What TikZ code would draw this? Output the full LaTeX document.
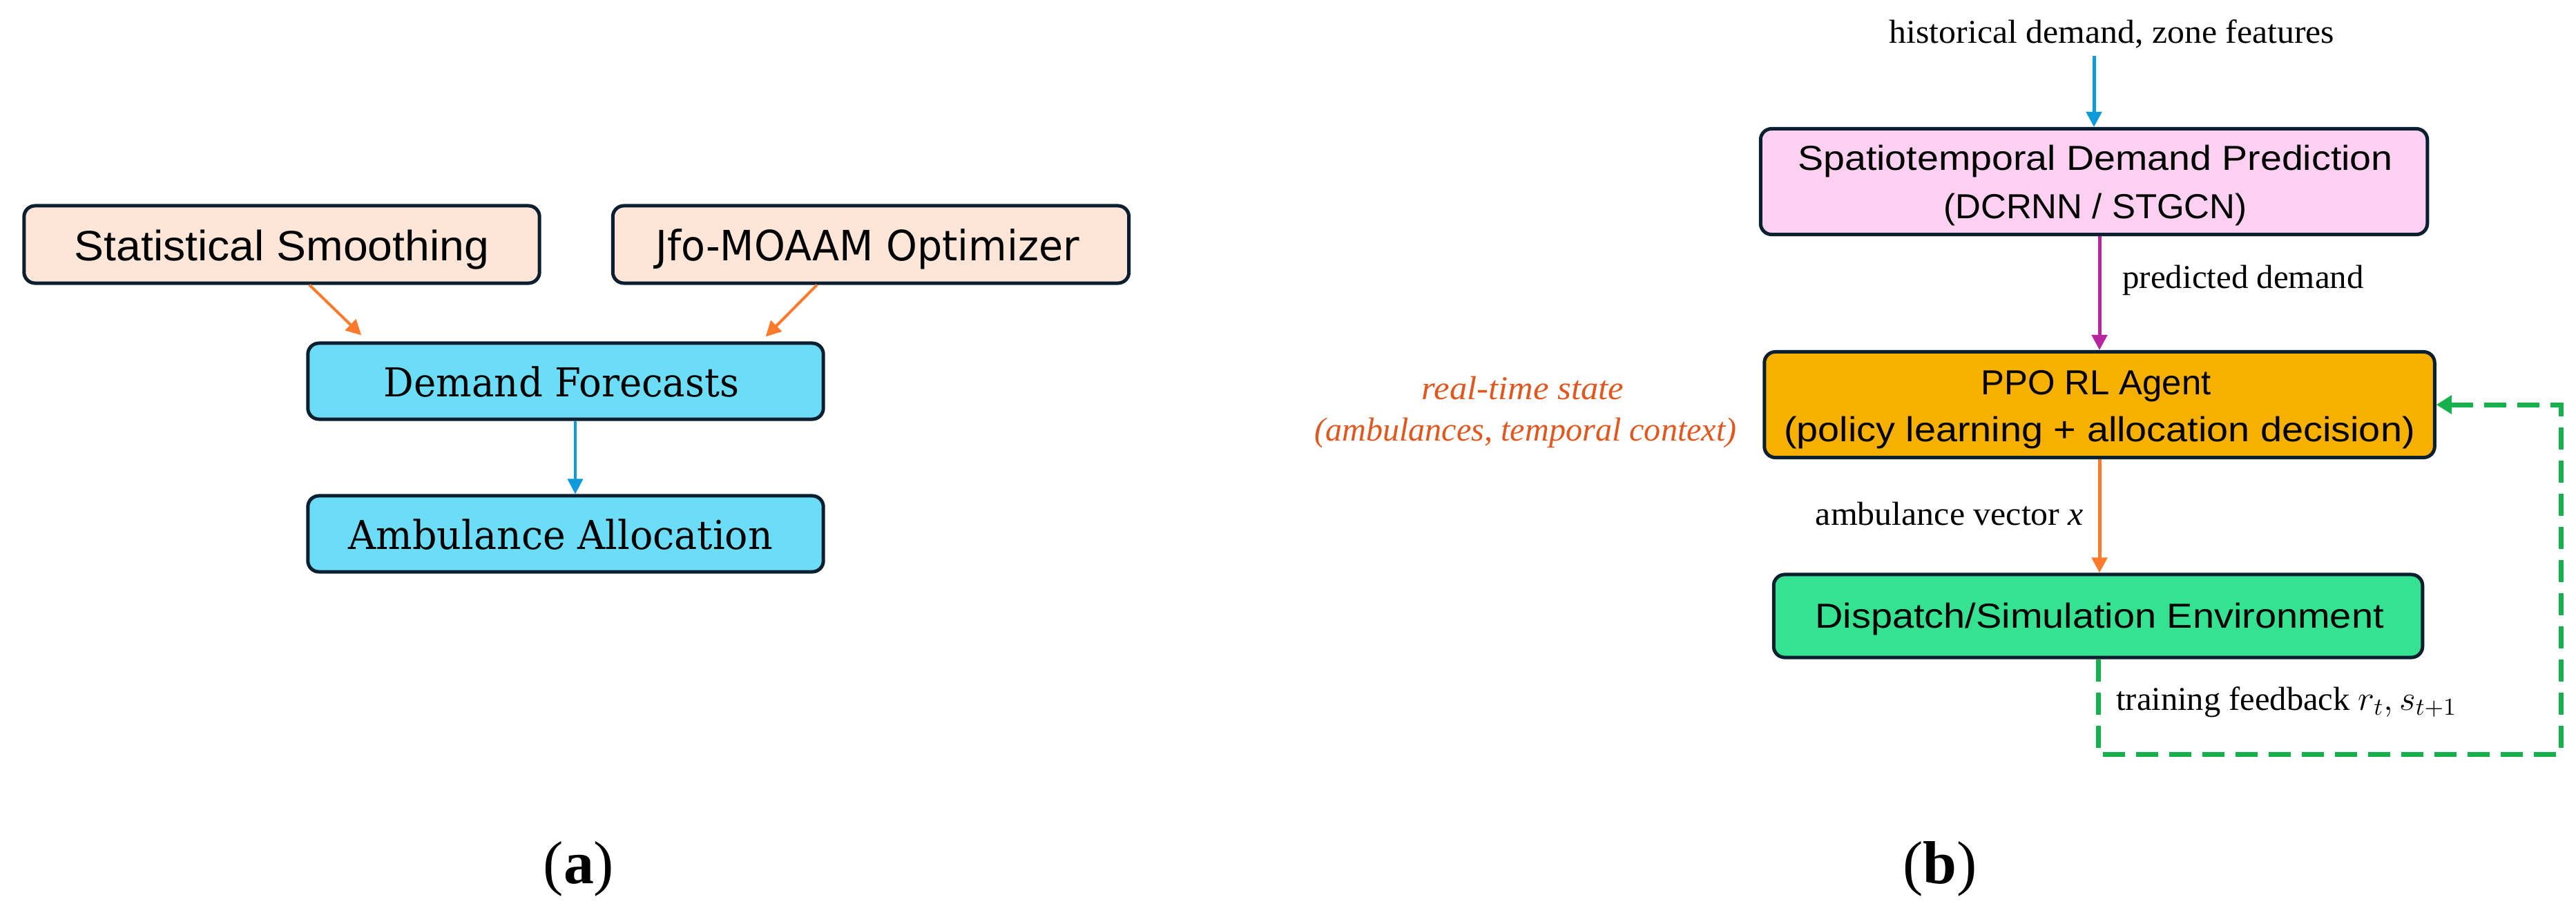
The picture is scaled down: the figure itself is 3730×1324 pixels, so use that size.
\documentclass[tikz,border=0pt]{standalone}
\usepackage{fontspec}
\usepackage{graphicx}
\setmainfont{Liberation Serif}
\newfontfamily\lsans{Liberation Sans}
\newfontfamily\dsans{DejaVu Sans}
\newfontfamily\dserif{DejaVu Serif}
\usetikzlibrary{arrows.meta,calc}
\definecolor{bord}{HTML}{0A2030}
\definecolor{peach}{HTML}{FDE5D8}
\definecolor{cyanbox}{HTML}{6CDDF7}
\definecolor{pinkbox}{HTML}{FCD0F0}
\definecolor{ppobox}{HTML}{F5B000}
\definecolor{dsebox}{HTML}{35E28F}
\definecolor{orarrow}{HTML}{FF7A2A}
\definecolor{bluearrow}{HTML}{0E9BDB}
\definecolor{purparrow}{HTML}{B7259F}
\definecolor{greendash}{HTML}{16B14C}
\definecolor{redtext}{HTML}{E0581E}
\newcommand{\fw}[2]{\resizebox{#1cm}{\height}{#2}}
\tikzset{
  boxA/.style={draw=bord, line width=0.05cm, rounded corners=0.16cm, inner sep=0pt},
  txt/.style={inner sep=0pt, anchor=base},
  conn/.style={line width=#1, -{Triangle[length=0.22cm,width=0.22cm]}},
  sfA/.style={font=\lsans\fontsize{17.5}{20}\selectfont},
  sfB/.style={font=\dsans\fontsize{17.2}{20}\selectfont},
  sfC/.style={font=\dserif\fontsize{16.4}{20}\selectfont},
  sfR/.style={font=\lsans\fontsize{14.3}{16}\selectfont},
  lab/.style={font=\fontsize{13.7}{16}\selectfont},
}
\begin{document}
\begin{tikzpicture}[x=0.01cm,y=-0.01cm]
\useasboundingbox[fill=white] (0,0) rectangle (3730,1324);

% ---------- panel (a) ----------
\node[boxA, fill=peach, minimum width=7.46cm, minimum height=1.12cm] (ss) at (408,354) {};
\node[boxA, fill=peach, minimum width=7.47cm, minimum height=1.12cm] (jfo) at (1261,354) {};
\node[boxA, fill=cyanbox, minimum width=7.46cm, minimum height=1.10cm] (df) at (819,552) {};
\node[boxA, fill=cyanbox, minimum width=7.46cm, minimum height=1.10cm] (aa) at (819,773) {};

\node[txt, sfA] (ssT) at (408,377) {\fw{6.00}{Statistical Smoothing}};
\node[txt, sfB] (jfoT) at (1256,377) {\fw{6.13}{Jfo-MOAAM Optimizer}};
\node[txt, sfC] (dfT) at (813,574) {\fw{5.14}{Demand Forecasts}};
\node[txt, sfC] (aaT) at (812,795) {\fw{6.14}{Ambulance Allocation}};

\draw[conn=0.04cm, draw=orarrow] ($(ss.south)+(40,0)$) -- ($(df.north west)+(80,-9)$);
\draw[conn=0.04cm, draw=orarrow] ($(jfo.south)+(-78,0)$) -- ($(df.north east)+(-86,-7)$);
\draw[conn=0.035cm, draw=bluearrow] ($(df.south)+(14,0)$) -- ($(aa.north)+(14,0)$);

\node[txt, font=\fontsize{25}{30}\selectfont] (capa) at (838,1279) {(\textbf{a})};

% ---------- panel (b) ----------
\node[boxA, fill=pinkbox, minimum width=9.65cm, minimum height=1.53cm] (sp) at (3032,263) {};
\node[boxA, fill=ppobox, minimum width=9.70cm, minimum height=1.53cm] (ppo) at (3040,586) {};
\node[boxA, fill=dsebox, minimum width=9.39cm, minimum height=1.20cm] (dse) at (3038,892) {};

\node[txt, sfR] (sp1) at (3034,246) {\fw{8.61}{Spatiotemporal Demand Prediction}};
\node[txt, sfR] (sp2) at (3034,316) {\fw{4.39}{(DCRNN / STGCN)}};
\node[txt, sfR] (ppo1) at (3035,571) {\fw{3.33}{PPO RL Agent}};
\node[txt, sfR] (ppo2) at (3040,639) {\fw{9.13}{(policy learning + allocation decision)}};
\node[txt, sfR] (dseT) at (3040,909) {\fw{8.23}{Dispatch/Simulation Environment}};

\node[txt, lab] (hist) at (3058,63) {\fw{6.44}{historical demand, zone features}};
\node[txt, lab] (pred) at (3248,417) {\fw{3.49}{predicted demand}};
\node[txt, lab] (ambv) at (2823,760) {\fw{3.88}{ambulance vector \textit{x}}};
\node[txt, lab] (trf) at (3311,1028) {\fw{4.93}{training feedback $r_t, s_{t+1}$}};
\node[txt, lab, text=redtext] (rts1) at (2205,578) {\fw{2.92}{\textit{real-time state}}};
\node[txt, lab, text=redtext] (rts2) at (2209,638) {\fw{6.11}{\textit{(ambulances, temporal context)}}};

\draw[conn=0.05cm, draw=bluearrow] ($(hist.south -| sp.north)+(0,10)$) -- (sp.north);
\draw[conn=0.05cm, draw=purparrow] (sp.south -| ppo.north) -- (ppo.north);
\draw[conn=0.05cm, draw=orarrow] (ppo.south) -- (ppo.south |- dse.north);

\coordinate (fbR) at (3708,1092);
\draw[line width=0.07cm, draw=greendash, dash pattern=on 0.32cm off 0.16cm,
      -{Triangle[length=0.22cm,width=0.26cm]}]
  (dse.south) |- (fbR) -- (fbR |- ppo.east) -- (ppo.east);

\node[txt, font=\fontsize{25}{30}\selectfont] (capb) at (2809,1279) {(\textbf{b})};
\end{tikzpicture}
\end{document}
